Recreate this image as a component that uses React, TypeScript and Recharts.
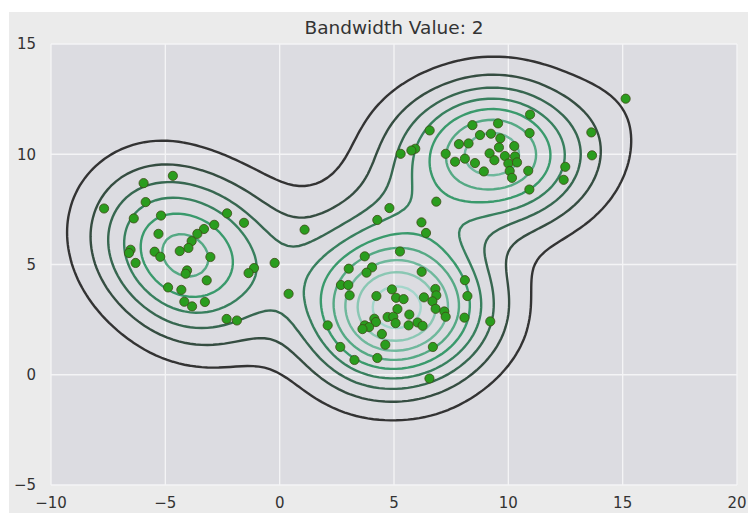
import { ComposedChart, XAxis, YAxis, CartesianGrid, Line, Scatter } from 'recharts'

// points, grouped by the blob they sit in
const leftCluster = [
  [-4.67, 9.02], [-5.95, 8.69], [-7.68, 7.54], [-5.86, 7.83], [-6.38, 7.09], [-5.19, 7.22],
  [-2.3, 7.32], [-1.56, 6.89], [-2.86, 6.8], [-3.31, 6.61], [-3.6, 6.39], [-5.3, 6.39],
  [-3.85, 6.06], [-3.99, 5.75], [-4.37, 5.61], [-6.52, 5.67], [-6.59, 5.52], [-5.47, 5.58],
  [-5.22, 5.35], [-3.03, 5.34], [-6.3, 5.07], [-0.22, 5.07], [-4.05, 4.73], [-4.11, 4.58],
  [-1.12, 4.84], [-1.36, 4.61], [-3.19, 4.28], [-4.88, 3.96], [-4.3, 3.85], [-4.17, 3.31],
  [-3.83, 3.1], [-3.27, 3.3], [-2.32, 2.53], [-1.87, 2.46],
]

const middleCluster = [
  [1.09, 6.58], [0.39, 3.67], [4.27, 7.02], [4.8, 7.56], [6.2, 6.91], [6.4, 6.43],
  [5.26, 5.59], [3.72, 5.37], [3.02, 4.81], [4.04, 4.87], [3.8, 4.63], [6.21, 4.67],
  [8.1, 4.29], [2.68, 4.07], [3.0, 4.07], [3.06, 3.6], [4.23, 3.57], [4.91, 3.87],
  [5.09, 3.49], [5.42, 3.43], [6.31, 3.51], [6.81, 3.89], [6.85, 3.6], [6.68, 3.33],
  [8.21, 3.57], [6.82, 2.99], [5.15, 2.98], [7.2, 2.87], [7.26, 2.63], [5.67, 2.73],
  [4.72, 2.62], [4.97, 2.63], [4.14, 2.54], [4.21, 2.39], [5.07, 2.34], [6.03, 2.37],
  [6.25, 2.22], [5.64, 2.24], [3.72, 2.24], [3.91, 2.16], [3.62, 2.07], [8.08, 2.59],
  [2.1, 2.24], [9.21, 2.42], [4.47, 1.85], [4.62, 1.36], [2.65, 1.26], [6.7, 1.26],
  [3.27, 0.67], [4.27, 0.76], [6.55, -0.17],
]

const upperCluster = [
  [10.95, 11.8], [9.55, 11.4], [8.43, 11.32], [6.56, 11.08], [13.63, 10.99], [10.93, 10.96],
  [8.76, 10.87], [9.24, 10.93], [9.65, 10.72], [7.84, 10.46], [8.26, 10.49], [10.26, 10.37],
  [9.59, 10.31], [5.93, 10.25], [5.76, 10.17], [5.29, 10.02], [7.26, 10.02], [9.18, 10.04],
  [9.85, 9.92], [10.29, 9.9], [9.39, 9.73], [7.67, 9.66], [8.1, 9.8], [8.54, 9.6],
  [10.0, 9.58], [10.38, 9.63], [13.66, 9.95], [8.93, 9.22], [10.06, 9.24], [10.16, 8.93],
  [10.87, 9.25], [12.49, 9.43], [12.42, 8.84], [10.92, 8.4], [6.85, 7.85], [15.13, 12.52],
]

const xTicks = [-10, -5, 0, 5, 10, 15, 20]
const yTicks = [-5, 0, 5, 10, 15]
const bandwidth = 2
const title = `Bandwidth Value: ${bandwidth}`

const points = [...leftCluster, ...middleCluster, ...upperCluster].map(([x, y]) => ({ x, y }))

type Pt = { x: number; y: number }

// gaussian kde on a grid, same as the plot's bivariate density
function densityGrid(n: number) {
  const xsMin = Math.min(...points.map((p) => p.x)) - 3 * bandwidth
  const xsMax = Math.max(...points.map((p) => p.x)) + 3 * bandwidth
  const ysMin = Math.min(...points.map((p) => p.y)) - 3 * bandwidth
  const ysMax = Math.max(...points.map((p) => p.y)) + 3 * bandwidth
  const xs: number[] = []
  const ys: number[] = []
  for (let i = 0; i < n; i++) {
    xs.push(xsMin + ((xsMax - xsMin) * i) / (n - 1))
    ys.push(ysMin + ((ysMax - ysMin) * i) / (n - 1))
  }
  const norm = 1 / (points.length * 2 * Math.PI * bandwidth * bandwidth)
  const s2 = 2 * bandwidth * bandwidth
  const z = ys.map((gy) =>
    xs.map((gx) => {
      let sum = 0
      for (const p of points) {
        const dx = gx - p.x
        const dy = gy - p.y
        sum += Math.exp(-(dx * dx + dy * dy) / s2)
      }
      return sum * norm
    })
  )
  return { xs, ys, z }
}

function niceLevels(zmin: number, zmax: number, nbins: number) {
  const raw = (zmax - zmin) / nbins
  const scale = Math.pow(10, Math.floor(Math.log10(raw)))
  let step = 10 * scale
  for (const s of [1, 2, 2.5, 5, 10]) {
    if (s * scale >= raw) {
      step = s * scale
      break
    }
  }
  const out: number[] = []
  for (let k = Math.ceil(zmin / step); k * step < zmax; k++) {
    if (k * step > zmin) out.push(k * step)
  }
  return out
}

// marching squares, segments chained into polylines
function contour(xs: number[], ys: number[], z: number[][], level: number): Pt[][] {
  const pts = new Map<string, Pt>()
  const adj = new Map<string, string[]>()
  const link = (a: string, b: string) => {
    if (!adj.has(a)) adj.set(a, [])
    if (!adj.has(b)) adj.set(b, [])
    adj.get(a)!.push(b)
    adj.get(b)!.push(a)
  }
  const interp = (x0: number, y0: number, v0: number, x1: number, y1: number, v1: number) => {
    const t = (level - v0) / (v1 - v0)
    return { x: x0 + t * (x1 - x0), y: y0 + t * (y1 - y0) }
  }
  for (let j = 0; j < ys.length - 1; j++) {
    for (let i = 0; i < xs.length - 1; i++) {
      const v0 = z[j][i]
      const v1 = z[j][i + 1]
      const v2 = z[j + 1][i + 1]
      const v3 = z[j + 1][i]
      const a0 = v0 >= level
      const a1 = v1 >= level
      const a2 = v2 >= level
      const a3 = v3 >= level
      const hit: Record<string, string> = {}
      if (a0 !== a1) {
        const k = `h${i},${j}`
        if (!pts.has(k)) pts.set(k, interp(xs[i], ys[j], v0, xs[i + 1], ys[j], v1))
        hit.b = k
      }
      if (a1 !== a2) {
        const k = `v${i + 1},${j}`
        if (!pts.has(k)) pts.set(k, interp(xs[i + 1], ys[j], v1, xs[i + 1], ys[j + 1], v2))
        hit.r = k
      }
      if (a3 !== a2) {
        const k = `h${i},${j + 1}`
        if (!pts.has(k)) pts.set(k, interp(xs[i], ys[j + 1], v3, xs[i + 1], ys[j + 1], v2))
        hit.t = k
      }
      if (a0 !== a3) {
        const k = `v${i},${j}`
        if (!pts.has(k)) pts.set(k, interp(xs[i], ys[j], v0, xs[i], ys[j + 1], v3))
        hit.l = k
      }
      const keys = Object.keys(hit)
      if (keys.length === 2) link(hit[keys[0]], hit[keys[1]])
      else if (keys.length === 4) {
        const centre = (v0 + v1 + v2 + v3) / 4 >= level
        if (centre === a0) {
          link(hit.b, hit.r)
          link(hit.l, hit.t)
        } else {
          link(hit.b, hit.l)
          link(hit.r, hit.t)
        }
      }
    }
  }
  const seen = new Set<string>()
  const lines: Pt[][] = []
  const walk = (start: string) => {
    const chain = [start]
    seen.add(start)
    let cur = start
    for (;;) {
      const next = (adj.get(cur) || []).find((n) => !seen.has(n))
      if (!next) break
      seen.add(next)
      chain.push(next)
      cur = next
    }
    const closed = (adj.get(cur) || []).includes(start) && chain.length > 2
    const line = chain.map((k) => pts.get(k)!)
    if (closed) line.push(line[0])
    lines.push(line)
  }
  for (const [k, v] of adj) if (v.length === 1 && !seen.has(k)) walk(k)
  for (const k of adj.keys()) if (!seen.has(k)) walk(k)
  return lines
}

// BuGn_d: #333333 -> BuGn_r samples
const stops = [
  [0x33, 0x33, 0x33],
  [0x3a, 0x9a, 0x6c],
  [0xa4, 0xd6, 0xcb],
]
function levelColor(t: number) {
  const s = t * (stops.length - 1)
  const i = Math.min(Math.floor(s), stops.length - 2)
  const f = s - i
  const c = stops[i].map((v, k) => Math.round(v + (stops[i + 1][k] - v) * f))
  return `rgb(${c[0]},${c[1]},${c[2]})`
}

const { xs, ys, z } = densityGrid(140)
let zmin = Infinity
let zmax = -Infinity
for (const row of z) for (const v of row) {
  if (v < zmin) zmin = v
  if (v > zmax) zmax = v
}
const levels = niceLevels(zmin, zmax, 11)
const contours = levels.flatMap((lev, li) =>
  contour(xs, ys, z, lev).map((line) => ({
    line,
    color: levelColor(levels.length > 1 ? li / (levels.length - 1) : 0),
  }))
)

const fmt = (v: number) => (v < 0 ? `\u2212${Math.abs(v)}` : String(v))

export default function App() {
  return (
    <div style={{ position: 'absolute', left: 0, top: 0, width: 748, height: 513, background: '#fff' }}>
      <div style={{ position: 'absolute', left: 9, top: 12, right: 0, bottom: 0, background: '#ebebeb' }} />
      <div
        style={{
          position: 'absolute',
          left: 51,
          width: 686,
          top: 17,
          textAlign: 'center',
          fontFamily: 'DejaVu Sans',
          fontSize: 18.5,
          color: '#333',
        }}
      >
        {title}
      </div>
      <div style={{ position: 'absolute', left: 0, top: 0 }}>
        <ComposedChart width={748} height={513} margin={{ top: 44, right: 11, bottom: 0, left: 9 }}>
          <CartesianGrid fill="#dcdce1" stroke="#f4f4f6" strokeWidth={1.3} horizontalValues={yTicks} verticalValues={xTicks} />
          <XAxis
            type="number"
            dataKey="x"
            domain={[-10, 20]}
            ticks={xTicks}
            allowDataOverflow
            height={28}
            axisLine={false}
            tickLine={false}
            tickMargin={6}
            tickFormatter={fmt}
            tick={{ fill: '#333', fontSize: 15, fontFamily: 'DejaVu Sans' }}
          />
          <YAxis
            type="number"
            dataKey="y"
            domain={[-5, 15]}
            ticks={yTicks}
            allowDataOverflow
            width={42}
            axisLine={false}
            tickLine={false}
            tickMargin={9}
            tickFormatter={fmt}
            tick={{ fill: '#333', fontSize: 15, fontFamily: 'DejaVu Sans' }}
          />
          {contours.map((c, i) => (
            <Line
              key={i}
              data={c.line}
              dataKey="y"
              type="linear"
              stroke={c.color}
              strokeWidth={2.4}
              dot={false}
              activeDot={false}
              isAnimationActive={false}
              legendType="none"
            />
          ))}
          <Scatter
            data={points}
            isAnimationActive={false}
            shape={(p: any) => <circle cx={p.cx} cy={p.cy} r={4.6} fill="#2a9d1e" stroke="#3d4a16" strokeWidth={0.8} />}
          />
        </ComposedChart>
      </div>
    </div>
  )
}
